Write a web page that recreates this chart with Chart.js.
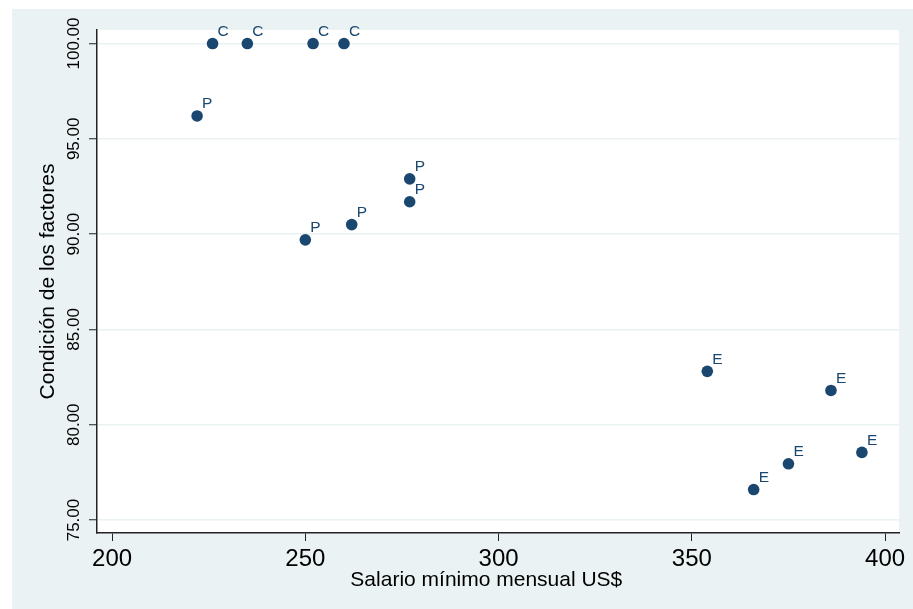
<!DOCTYPE html>
<html lang="es">
<head>
    <meta charset="UTF-8">
    <title>Condición de los factores vs salario mínimo</title>
    <style>
        html, body { margin: 0; padding: 0; background: #ffffff; }
        canvas { display: block; }
    </style>
</head>
<body>
    <canvas id="scatterChart" width="913" height="609"></canvas>
    <script src="https://cdn.jsdelivr.net/npm/chart.js"></script>
    <script>
        // Data
        const salario = [226, 235, 252, 260, 222, 250, 262, 277, 277, 354, 386, 375, 394, 366];
        const condicion = [100, 100, 100, 100, 96.2, 89.7, 90.5, 92.9, 91.7, 82.8, 81.8, 77.95, 78.55, 76.6];
        const etiquetas = ['C', 'C', 'C', 'C', 'P', 'P', 'P', 'P', 'P', 'E', 'E', 'E', 'E', 'E'];

        const xTicks = [200, 250, 300, 350, 400];
        const yTicks = [75, 80, 85, 90, 95, 100];

        const FONT = '"Liberation Sans", Arial, sans-serif';
        const NAVY = '#1a476f';
        const BG = '#eaf2f3';

        // Outer light panel + white plot region
        const backgroundPlugin = {
            id: 'background',
            beforeDraw(chart) {
                const { ctx, chartArea } = chart;
                ctx.save();
                ctx.fillStyle = '#ffffff';
                ctx.fillRect(0, 0, chart.width, chart.height);
                ctx.fillStyle = BG;
                ctx.fillRect(12, 9, chart.width - 12, chart.height - 9);
                ctx.fillStyle = '#ffffff';
                ctx.fillRect(chartArea.left, chartArea.top,
                    chartArea.right - chartArea.left, chartArea.bottom - chartArea.top);
                ctx.restore();
            }
        };

        // Marker labels to the upper right of each point
        const labelPlugin = {
            id: 'pointLabels',
            afterDatasetsDraw(chart) {
                const { ctx } = chart;
                const meta = chart.getDatasetMeta(0);
                ctx.save();
                ctx.fillStyle = NAVY;
                ctx.font = '15.5px ' + FONT;
                ctx.textAlign = 'left';
                ctx.textBaseline = 'alphabetic';
                meta.data.forEach((pt, i) => {
                    ctx.fillText(etiquetas[i], pt.x + 5, pt.y - 7.5);
                });
                ctx.restore();
            }
        };

        const points = salario.map((s, i) => ({ x: s, y: condicion[i] }));

        const chart = new Chart(document.getElementById('scatterChart').getContext('2d'), {
            type: 'scatter',
            data: {
                datasets: [{
                    label: 'Condición',
                    data: points,
                    backgroundColor: NAVY,
                    borderWidth: 0,
                    pointRadius: 5.8,
                    pointHoverRadius: 5.8
                }]
            },
            options: {
                responsive: false,
                animation: false,
                events: [],
                layout: { padding: { left: 0, top: 30, right: 14, bottom: 0 } },
                plugins: {
                    legend: { display: false },
                    tooltip: { enabled: false }
                },
                scales: {
                    x: {
                        type: 'linear',
                        min: 196.1,
                        max: 403.6,
                        afterBuildTicks: scale => { scale.ticks = xTicks.map(v => ({ value: v })); },
                        afterFit: scale => { scale.height = 76; },
                        border: { color: '#222222', width: 1.5 },
                        grid: {
                            drawOnChartArea: false,
                            drawTicks: true,
                            tickLength: 8,
                            tickColor: '#222222',
                            tickWidth: 1
                        },
                        ticks: {
                            color: '#000000',
                            font: { family: FONT, size: 24 },
                            padding: 4,
                            maxRotation: 0,
                            minRotation: 0
                        },
                        title: {
                            display: true,
                            // trailing spaces nudge the centred title left, as in the original
                            text: 'Salario mínimo mensual US$\u00a0\u00a0\u00a0\u00a0',
                            color: '#000000',
                            font: { family: FONT, size: 21 },
                            padding: { top: 0, bottom: 16 }
                        }
                    },
                    y: {
                        type: 'linear',
                        min: 74.32,
                        max: 100.71,
                        afterBuildTicks: scale => { scale.ticks = yTicks.map(v => ({ value: v })); },
                        afterFit: scale => { scale.width = 97; },
                        border: { color: '#222222', width: 1.5 },
                        grid: {
                            color: BG,
                            lineWidth: 1.5,
                            drawTicks: true,
                            tickLength: 8,
                            tickColor: '#222222',
                            tickWidth: 1
                        },
                        ticks: {
                            color: '#000000',
                            font: { family: FONT, size: 17 },
                            minRotation: 90,
                            maxRotation: 90,
                            crossAlign: 'center',
                            padding: -11,
                            callback: v => Number(v).toFixed(2)
                        },
                        title: {
                            display: true,
                            text: 'Condición de los factores',
                            color: '#000000',
                            font: { family: FONT, size: 21 },
                            padding: { top: 36, bottom: 0 }
                        }
                    }
                }
            },
            plugins: [backgroundPlugin, labelPlugin]
        });
    </script>
</body>
</html>
